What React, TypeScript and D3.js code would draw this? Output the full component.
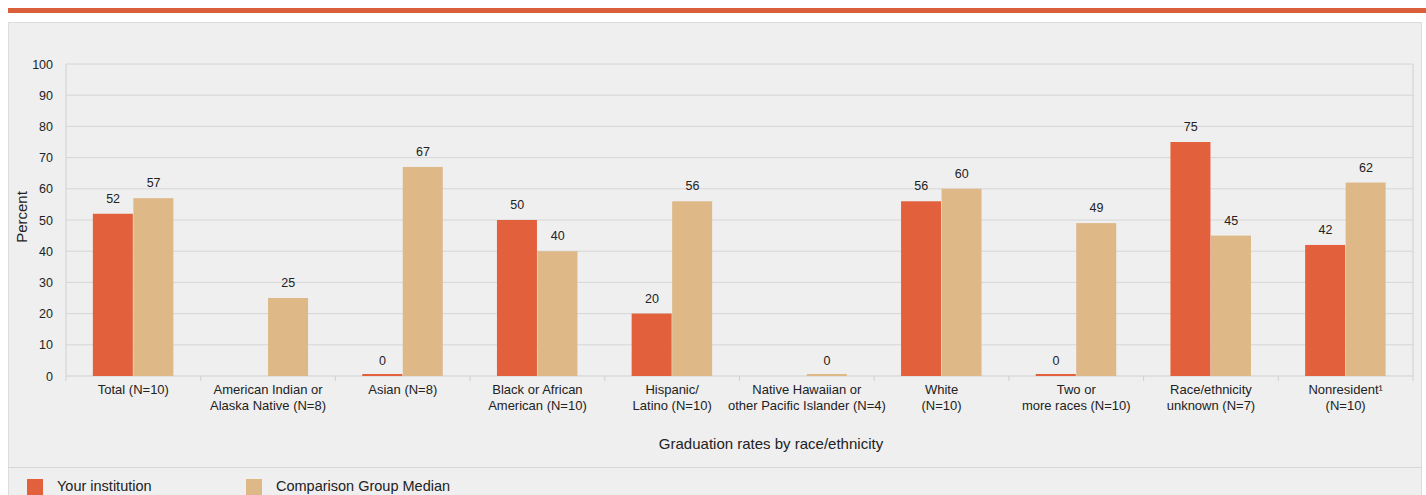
import React from "react";
import * as d3 from "d3";

const categories: string[][] = [
  ["Total (N=10)"],
  ["American Indian or", "Alaska Native (N=8)"],
  ["Asian (N=8)"],
  ["Black or African", "American (N=10)"],
  ["Hispanic/", "Latino (N=10)"],
  ["Native Hawaiian or", "other Pacific Islander (N=4)"],
  ["White", "(N=10)"],
  ["Two or", "more races (N=10)"],
  ["Race/ethnicity", "unknown (N=7)"],
  ["Nonresident\u00B9", "(N=10)"],
];
const yourInstitution: (number | null)[] = [52, null, 0, 50, 20, null, 56, 0, 75, 42];
const comparisonMedian: (number | null)[] = [57, 25, 67, 40, 56, 0, 60, 49, 45, 62];
const yTicks = [0, 10, 20, 30, 40, 50, 60, 70, 80, 90, 100];
const seriesNames = ["Your institution", "Comparison Group Median"];
const colors = ["#e2603b", "#deb887"];

export default function App() {
  const W = 1426, H = 495;
  const left = 66, right = 1413, top = 64, bottom = 376;
  const y = d3.scaleLinear().domain([0, 100]).range([bottom, top]);
  const x = d3.scaleBand<number>().domain(categories.map((_, i) => i)).range([left, right]).paddingInner(0).paddingOuter(0);
  const sub = d3.scaleBand<number>().domain([0, 1]).range([0, 81]);
  const bw = x.bandwidth();
  const font = "'Liberation Sans', Arial, sans-serif";
  const series = [yourInstitution, comparisonMedian];
  return (
    <svg width={W} height={H} style={{ position: "absolute", left: 0, top: 0 }} fontFamily={font}>
      <rect x={0} y={0} width={W} height={H} fill="#ffffff" />
      <rect x={8} y={8} width={W - 8} height={5} fill="#d9603b" />
      <rect x={8.5} y={22.5} width={1413} height={H} fill="#efefef" stroke="#dcdcdc" />
      {yTicks.map((t) => (
        <line key={t} x1={left} x2={right} y1={y(t)} y2={y(t)} stroke={t === 0 ? "#cfcfcf" : "#d6d6d6"} strokeWidth={1} />
      ))}
      <line x1={left} x2={left} y1={top} y2={bottom + 5} stroke="#d0d0d0" />
      <line x1={right} x2={right} y1={top} y2={bottom} stroke="#d0d0d0" />
      {categories.map((_, i) => (
        <line key={i} x1={x(i)! + bw} x2={x(i)! + bw} y1={bottom} y2={bottom + 5} stroke="#d0d0d0" />
      ))}
      {yTicks.map((t) => (
        <text key={t} x={53} y={y(t) + 4.5} textAnchor="end" fontSize={12.5} fill="#222">{t}</text>
      ))}
      <text transform={`translate(27,${(top + bottom) / 2 - 3}) rotate(-90)`} textAnchor="middle" fontSize={15} fill="#222">Percent</text>
      {categories.map((_, i) => {
        const gx = x(i)! + bw / 2 - 40.5;
        return series.map((s, k) => {
          const v = s[i];
          if (v === null) return null;
          const bx = gx + sub(k)!;
          const h = Math.max(bottom - y(v), 2);
          return (
            <g key={`${i}-${k}`}>
              <rect x={bx} y={bottom - h} width={sub.bandwidth() - 0.5} height={h} fill={colors[k]} />
              <text x={bx + sub.bandwidth() / 2} y={y(v) - 11} textAnchor="middle" fontSize={12.5} fill="#222">{v}</text>
            </g>
          );
        });
      })}
      {categories.map((lines, i) => (
        <text key={i} x={x(i)! + bw / 2} y={394} textAnchor="middle" fontSize={13} fill="#222">
          {lines.map((l, j) => (
            <tspan key={j} x={x(i)! + bw / 2} dy={j === 0 ? 0 : 16}>{l}</tspan>
          ))}
        </text>
      ))}
      <text x={771} y={449} textAnchor="middle" fontSize={15} fill="#222">Graduation rates by race/ethnicity</text>
      <line x1={9} x2={1421} y1={467.5} y2={467.5} stroke="#d6d6d6" />
      {seriesNames.map((n, k) => {
        const lx = [27, 246][k];
        return (
          <g key={n}>
            <rect x={lx} y={479} width={16} height={16} fill={colors[k]} />
            <text x={lx + 30} y={490.5} fontSize={14.5} fill="#222">{n}</text>
          </g>
        );
      })}
    </svg>
  );
}
